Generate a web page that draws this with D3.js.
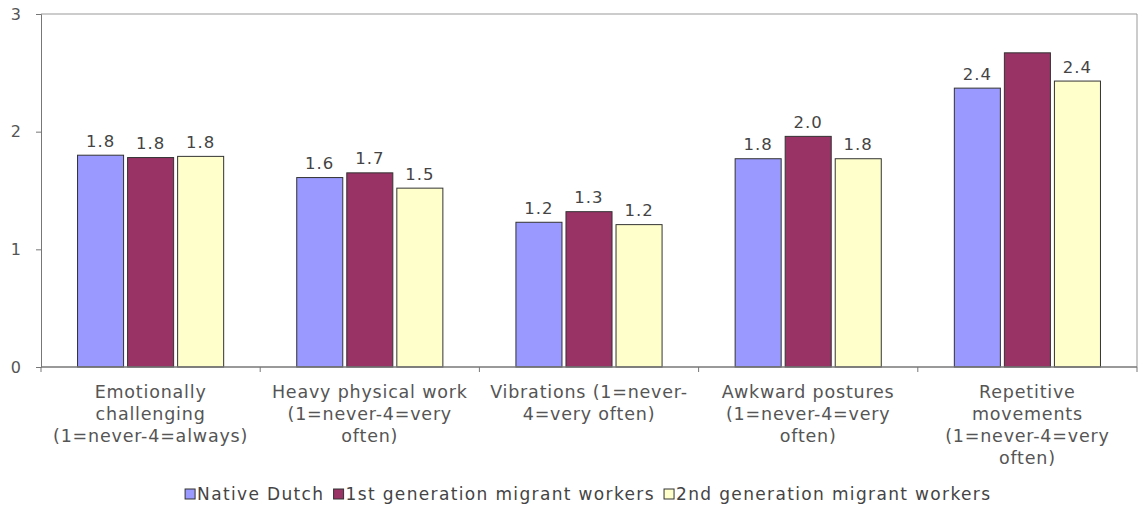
<!DOCTYPE html>
<html>
<head>
<meta charset="utf-8">
<script src="https://cdn.jsdelivr.net/npm/d3@7"></script>
<style>
  body { margin: 0; background: #fff; }
  text { font-family: "DejaVu Sans", Verdana, sans-serif; }
</style>
</head>
<body>
<script>
const categories = [
    ["Emotionally", "challenging", "(1=never-4=always)"],
    ["Heavy physical work", "(1=never-4=very", "often)"],
    ["Vibrations (1=never-", "4=very often)"],
    ["Awkward postures", "(1=never-4=very", "often)"],
    ["Repetitive", "movements", "(1=never-4=very", "often)"]
];
const seriesNames = ["Native Dutch", "1st generation migrant workers", "2nd generation migrant workers"];
const colors = ["#9999ff", "#993366", "#ffffcc"];
const nativeDutch = [1.80, 1.61, 1.23, 1.77, 2.37];
const firstGen = [1.78, 1.65, 1.32, 1.96, 2.67];
const secondGen = [1.79, 1.52, 1.21, 1.77, 2.43];
// value labels as printed (the 1st-gen bar of the last group has none)
const nativeLabels = ["1.8", "1.6", "1.2", "1.8", "2.4"];
const firstLabels = ["1.8", "1.7", "1.3", "2.0", null];
const secondLabels = ["1.8", "1.5", "1.2", "1.8", "2.4"];
const yTicks = [0, 1, 2, 3];

const width = 1143, height = 508;
const margin = {top: 14, right: 6, bottom: 141, left: 41};

const series = [nativeDutch, firstGen, secondGen];
const labels = [nativeLabels, firstLabels, secondLabels];

const svg = d3.select("body")
    .append("svg")
    .attr("width", width)
    .attr("height", height);

const x = d3.scaleBand()
    .domain(d3.range(categories.length))
    .range([margin.left, width - margin.right])
    .paddingInner(0)
    .paddingOuter(0);

const xs = d3.scaleBand()
    .domain(d3.range(series.length))
    .range([0, x.bandwidth()])
    .paddingOuter(0.73)
    .paddingInner(0.08);

const y = d3.scaleLinear()
    .domain([0, 3])
    .range([height - margin.bottom, margin.top]);

// plot frame (top and right)
svg.append("path")
    .attr("d", `M${margin.left},${y(3)}H${width - margin.right}V${y(0)}`)
    .attr("fill", "none")
    .attr("stroke", "#999")
    .attr("stroke-width", 1);

const groups = svg.append("g")
    .selectAll("g")
    .data(categories)
    .join("g")
    .attr("transform", (d, i) => `translate(${x(i)},0)`);

const cells = (d, i) => series.map((s, j) => ({j, v: s[i], label: labels[j][i]}));

groups.selectAll("rect")
    .data(cells)
    .join("rect")
    .attr("x", d => xs(d.j))
    .attr("y", d => y(d.v))
    .attr("width", xs.bandwidth())
    .attr("height", d => y(0) - y(d.v))
    .attr("fill", d => colors[d.j])
    .attr("stroke", "#333")
    .attr("stroke-width", 1);

groups.selectAll("text.val")
    .data((d, i) => cells(d, i).filter(c => c.label))
    .join("text")
    .attr("class", "val")
    .attr("x", d => xs(d.j) + xs.bandwidth() / 2)
    .attr("y", d => y(d.v) - 8.5)
    .attr("text-anchor", "middle")
    .attr("font-size", 16.5)
    .attr("letter-spacing", 1)
    .attr("fill", "#444")
    .text(d => d.label);

// y axis
const yAxis = svg.append("g")
    .attr("transform", `translate(${margin.left},0)`)
    .call(d3.axisLeft(y).tickValues(yTicks).tickFormat(d3.format("d")).tickSize(5).tickPadding(15));
yAxis.select(".domain").attr("stroke", "#777");
yAxis.selectAll(".tick line").attr("stroke", "#777");
yAxis.selectAll(".tick text")
    .attr("font-size", 16)
    .attr("fill", "#555")
    .style("font-family", "DejaVu Sans, Verdana, sans-serif");

// x axis
const xAxisG = svg.append("g")
    .attr("transform", `translate(0,${y(0)})`);
xAxisG.append("line")
    .attr("x1", margin.left).attr("x2", width - margin.right)
    .attr("stroke", "#777").attr("stroke-width", 1.5);
xAxisG.selectAll("line.tick")
    .data(d3.range(categories.length + 1))
    .join("line")
    .attr("class", "tick")
    .attr("x1", i => i < categories.length ? x(i) : x(i - 1) + x.bandwidth())
    .attr("x2", i => i < categories.length ? x(i) : x(i - 1) + x.bandwidth())
    .attr("y1", 0).attr("y2", 5)
    .attr("stroke", "#777");

groups.each(function(lines) {
    const t = d3.select(this).append("text")
        .attr("text-anchor", "middle")
        .attr("font-size", 17.5)
        .attr("letter-spacing", 0.8)
        .attr("fill", "#555");
    lines.forEach((line, k) => {
        t.append("tspan")
            .attr("x", x.bandwidth() / 2)
            .attr("y", y(0) + 31 + k * 22)
            .text(line);
    });
});

// legend
const legend = svg.append("text")
    .attr("x", 587)
    .attr("y", 500)
    .attr("text-anchor", "middle")
    .attr("font-size", 17)
    .attr("letter-spacing", 1.35)
    .attr("fill", "#444");
seriesNames.forEach((name, i) => {
    legend.append("tspan").attr("fill", "transparent").text((i ? " " : "") + "\u2588");
    legend.append("tspan").text(name);
});

// draw squares over the placeholder glyphs
const tspans = legend.selectAll("tspan").nodes();
seriesNames.forEach((name, i) => {
    const box = tspans[i * 2].getBBox();
    svg.append("rect")
        .attr("x", box.x + box.width - 12)
        .attr("y", 489)
        .attr("width", 10)
        .attr("height", 10)
        .attr("fill", colors[i])
        .attr("stroke", "#333")
        .attr("stroke-width", 1);
});
</script>
</body>
</html>
